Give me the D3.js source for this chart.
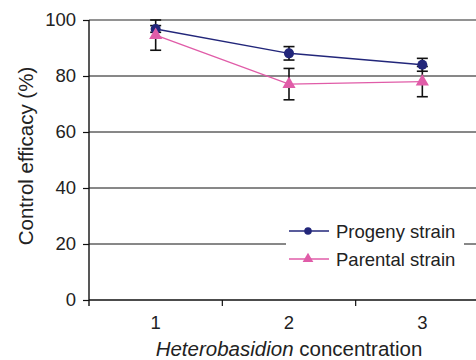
<!DOCTYPE html>
<html>
<head>
<meta charset="utf-8">
<script src="https://cdn.jsdelivr.net/npm/d3@7"></script>
<style>
  body { margin: 0; background: #fff; }
  svg { display: block; font-family: "Liberation Sans", Arial, sans-serif; }
</style>
</head>
<body>
<div id="container"></div>
<script>
/* DATA */
const concentrations = ["1", "2", "3"];
const progenyMean = [96.8, 88.1, 84.0];
const progenyErr = [1.2, 2.4, 2.3];
const parentalMean = [94.6, 77.1, 78.0];
const parentalErr = [5.4, 5.6, 5.4];
const yTicks = [0, 20, 40, 60, 80, 100];
const seriesNames = ["Progeny strain", "Parental strain"];

/* CONSTANTS */
const width = 476, height = 360;
const margin = {top: 20, bottom: 60, left: 89, right: -13};
const navy = "#22267a", pink = "#e05ca8";

const series = [
  {name: seriesNames[0], color: navy, shape: "circle",
   values: concentrations.map((c, i) => ({c, v: progenyMean[i], e: progenyErr[i]}))},
  {name: seriesNames[1], color: pink, shape: "triangle",
   values: concentrations.map((c, i) => ({c, v: parentalMean[i], e: parentalErr[i]}))}
];

const svg = d3.select("#container").append("svg")
  .attr("width", width)
  .attr("height", height);

// scales
const xScale = d3.scaleBand()
  .domain(concentrations)
  .range([margin.left, width - margin.right])
  .padding(0);
const yScale = d3.scaleLinear()
  .domain([0, 100])
  .range([height - margin.bottom, margin.top]);
const xMid = d => xScale(d) + xScale.bandwidth() / 2;

// gridlines
svg.append("g").selectAll("line")
  .data(yTicks.filter(t => t > 0))
  .join("line")
  .attr("x1", margin.left).attr("x2", width - margin.right)
  .attr("y1", d => yScale(d)).attr("y2", d => yScale(d))
  .attr("stroke", d => d === 100 ? "#6e6e6e" : "#111")
  .attr("stroke-width", d => d === 100 ? 1.6 : 1);

// y axis
const yAxis = d3.axisLeft(yScale).tickValues(yTicks).tickSize(6).tickPadding(7);
const yAxisGroup = svg.append("g")
  .attr("transform", `translate(${margin.left},0)`)
  .call(yAxis);
yAxisGroup.select(".domain").remove();
yAxisGroup.selectAll("line").attr("stroke", "#111").attr("stroke-width", 1.2);
yAxisGroup.selectAll("text").attr("font-size", "18.5px").attr("fill", "#222")
  .attr("font-family", "Liberation Sans, Arial, sans-serif");
svg.append("line")
  .attr("x1", margin.left).attr("x2", margin.left)
  .attr("y1", yScale(100)).attr("y2", yScale(0) + 6)
  .attr("stroke", "#111").attr("stroke-width", 1.4);

// x axis: labels at band centres, tick marks at band edges
const xAxis = d3.axisBottom(xScale).tickSize(0).tickPadding(16);
const xAxisGroup = svg.append("g")
  .attr("transform", `translate(0,${yScale(0)})`)
  .call(xAxis);
xAxisGroup.select(".domain").remove();
xAxisGroup.selectAll("text").attr("font-size", "18.5px").attr("fill", "#222")
  .attr("font-family", "Liberation Sans, Arial, sans-serif");
svg.append("line")
  .attr("x1", margin.left).attr("x2", width - margin.right)
  .attr("y1", yScale(0)).attr("y2", yScale(0))
  .attr("stroke", "#111").attr("stroke-width", 1.4);
svg.append("g").selectAll("line")
  .data(concentrations.slice(1))
  .join("line")
  .attr("x1", d => xScale(d)).attr("x2", d => xScale(d))
  .attr("y1", yScale(0)).attr("y2", yScale(0) + 6)
  .attr("stroke", "#111").attr("stroke-width", 1.2);

// axis titles
svg.append("text")
  .attr("transform", `translate(33,${(yScale(0) + yScale(100)) / 2 - 4}) rotate(-90)`)
  .attr("text-anchor", "middle")
  .attr("font-size", "20.5px")
  .attr("fill", "#222")
  .text("Control efficacy (%)");

const xTitle = svg.append("text")
  .attr("x", xMid("2"))
  .attr("y", 356)
  .attr("text-anchor", "middle")
  .attr("font-size", "20.5px")
  .attr("fill", "#222");
xTitle.append("tspan").attr("font-style", "italic").text("Heterobasidion");
xTitle.append("tspan").text(" concentration");

// error bars
const capW = 5.5;
series.forEach(s => {
  const g = svg.append("g").attr("stroke", "#111").attr("stroke-width", 1.6);
  g.selectAll(".stem").data(s.values).join("line").attr("class", "stem")
    .attr("x1", d => xMid(d.c)).attr("x2", d => xMid(d.c))
    .attr("y1", d => yScale(d.v + d.e)).attr("y2", d => yScale(d.v - d.e));
  g.selectAll(".capT").data(s.values).join("line").attr("class", "capT")
    .attr("x1", d => xMid(d.c) - capW).attr("x2", d => xMid(d.c) + capW)
    .attr("y1", d => yScale(d.v + d.e)).attr("y2", d => yScale(d.v + d.e));
  g.selectAll(".capB").data(s.values).join("line").attr("class", "capB")
    .attr("x1", d => xMid(d.c) - capW).attr("x2", d => xMid(d.c) + capW)
    .attr("y1", d => yScale(d.v - d.e)).attr("y2", d => yScale(d.v - d.e));
});

// lines and markers
const line = d3.line().x(d => xMid(d.c)).y(d => yScale(d.v));
const circleSym = d3.symbol().type(d3.symbolCircle).size(80);
const triSym = d3.symbol().type(d3.symbolTriangle).size(75);

series.forEach(s => {
  svg.append("path")
    .datum(s.values)
    .attr("d", line)
    .attr("fill", "none")
    .attr("stroke", s.color)
    .attr("stroke-width", 1.4);
  svg.append("g").selectAll("path")
    .data(s.values)
    .join("path")
    .attr("transform", d => `translate(${xMid(d.c)},${yScale(d.v)})`)
    .attr("d", s.shape === "circle" ? circleSym : triSym)
    .attr("fill", s.color);
});

// legend
const legend = svg.append("g").attr("transform", "translate(286,218)");
legend.append("rect")
  .attr("width", 178).attr("height", 56)
  .attr("fill", "#fff");
const legendItems = legend.selectAll("g.item")
  .data(series)
  .join("g")
  .attr("class", "item")
  .attr("transform", (d, i) => `translate(0,${13 + i * 28})`);
legendItems.append("line")
  .attr("x1", 3).attr("x2", 43)
  .attr("stroke", d => d.color).attr("stroke-width", 1.4);
legendItems.append("path")
  .attr("transform", "translate(22,0)")
  .attr("d", d => d.shape === "circle"
    ? d3.symbol().type(d3.symbolCircle).size(45)()
    : d3.symbol().type(d3.symbolTriangle).size(50)())
  .attr("fill", d => d.color);
legendItems.append("text")
  .attr("x", 50).attr("y", 6.5)
  .attr("font-size", "18.5px")
  .attr("fill", "#222")
  .text(d => d.name);
</script>
</body>
</html>
